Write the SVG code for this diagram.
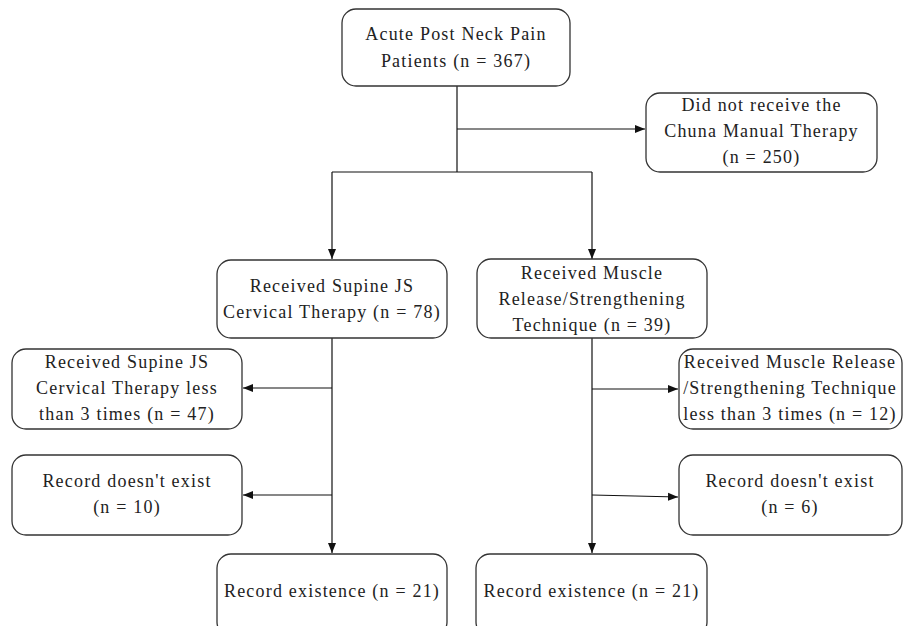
<svg xmlns="http://www.w3.org/2000/svg" width="904" height="626" viewBox="0 0 904 626">
<style>
.box{fill:#fff;stroke:#333;stroke-width:1.3}
.t{font-family:"Liberation Serif","Times New Roman",serif;font-size:18px;letter-spacing:1.2px;fill:#222;text-anchor:middle}
.c{fill:none;stroke:#111;stroke-width:1.2}
</style>
<defs>
<marker id="ah" markerUnits="userSpaceOnUse" markerWidth="10" markerHeight="10" viewBox="0 0 10 10" refX="10" refY="5" orient="auto">
<path d="M0,1 L10,5 L0,9 Z" fill="#111"/>
</marker>
</defs>
<rect width="904" height="626" fill="#fff"/>
<g id="connectors">
<path class="c" d="M457,86 V172"/>
<path class="c" d="M457,129 H645" marker-end="url(#ah)"/>
<path class="c" d="M332,172 H592"/>
<path class="c" d="M332,172 V259" marker-end="url(#ah)"/>
<path class="c" d="M592,172 V259" marker-end="url(#ah)"/>
<path class="c" d="M332,338 V553" marker-end="url(#ah)"/>
<path class="c" d="M332,388 H243" marker-end="url(#ah)"/>
<path class="c" d="M332,495 H243" marker-end="url(#ah)"/>
<path class="c" d="M592,338 V553" marker-end="url(#ah)"/>
<path class="c" d="M592,389 H678" marker-end="url(#ah)"/>
<path class="c" d="M592,495 L678,497" marker-end="url(#ah)"/>
</g>
<g id="n-start">
<rect class="box" x="342" y="9" width="228" height="77" rx="14"/>
<text class="t" x="456" y="40">Acute Post Neck Pain</text>
<text class="t" x="456" y="67">Patients (n = 367)</text>
</g>
<g id="n-excluded">
<rect class="box" x="646" y="93" width="231" height="79" rx="14"/>
<text class="t" x="761.5" y="111">Did not receive the</text>
<text class="t" x="761.5" y="137">Chuna Manual Therapy</text>
<text class="t" x="761.5" y="163">(n = 250)</text>
</g>
<g id="n-supine">
<rect class="box" x="217" y="260" width="230" height="78" rx="14"/>
<text class="t" x="332" y="292">Received Supine JS</text>
<text class="t" x="332" y="318">Cervical Therapy (n = 78)</text>
</g>
<g id="n-muscle">
<rect class="box" x="477" y="259" width="230" height="79" rx="14"/>
<text class="t" x="592" y="279">Received Muscle</text>
<text class="t" x="592" y="305">Release/Strengthening</text>
<text class="t" x="592" y="331">Technique (n = 39)</text>
</g>
<g id="n-supine-less">
<rect class="box" x="12" y="349" width="230" height="80" rx="14"/>
<text class="t" x="127" y="368">Received Supine JS</text>
<text class="t" x="127" y="394">Cervical Therapy less</text>
<text class="t" x="127" y="420">than 3 times (n = 47)</text>
</g>
<g id="n-supine-norecord">
<rect class="box" x="12" y="455" width="230" height="80" rx="14"/>
<text class="t" x="127" y="487">Record doesn't exist</text>
<text class="t" x="127" y="513">(n = 10)</text>
</g>
<g id="n-muscle-less">
<rect class="box" x="679" y="349" width="223" height="80" rx="14"/>
<text class="t" x="790" y="368">Received Muscle Release</text>
<text class="t" x="790" y="394">/Strengthening Technique</text>
<text class="t" x="790" y="420">less than 3 times (n = 12)</text>
</g>
<g id="n-muscle-norecord">
<rect class="box" x="679" y="455" width="223" height="80" rx="14"/>
<text class="t" x="790" y="487">Record doesn't exist</text>
<text class="t" x="790" y="513">(n = 6)</text>
</g>
<g id="n-supine-record">
<rect class="box" x="217" y="554" width="230" height="82" rx="14"/>
<text class="t" x="332" y="597">Record existence (n = 21)</text>
</g>
<g id="n-muscle-record">
<rect class="box" x="476" y="554" width="231" height="82" rx="14"/>
<text class="t" x="591.5" y="597">Record existence (n = 21)</text>
</g>
</svg>
